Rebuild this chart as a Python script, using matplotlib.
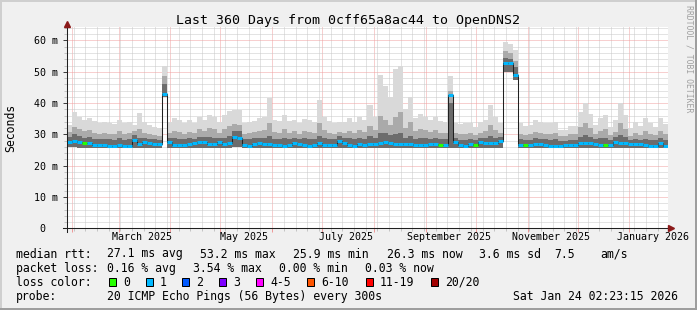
import numpy as np
import matplotlib
matplotlib.use('Agg')
import matplotlib.pyplot as plt
import matplotlib.dates as mdates
from matplotlib.patches import Rectangle
from matplotlib.ticker import MultipleLocator, FuncFormatter, NullFormatter
from datetime import datetime, timedelta

plt.rcParams['font.family'] = 'DejaVu Sans Mono'

# time range and binning (3-day bins over 360 days)
start = datetime(2025, 1, 29, 2, 23, 15)
end = datetime(2026, 1, 24, 2, 23, 15)
bin_days = 3

# median rtt per bin, ms
median_ms = [
    27.7, 27.9, 27.5, 27.2, 27.2, 26.6, 26.6, 26.6, 26.4, 26.4,
    26.6, 26.3, 26.4, 28.2, 26.8, 27.5, 27.2, 26.8, 26.8, 43.0,
    27.5, 26.6, 26.6, 26.6, 26.8, 27.2, 27.5, 27.7, 27.0, 27.0,
    27.5, 26.8, 27.2, 29.3, 29.0, 26.6, 26.4, 26.8, 27.2, 26.8,
    27.0, 26.6, 26.6, 26.4, 26.6, 27.2, 26.8, 26.6, 26.4, 26.6,
    27.3, 26.6, 26.6, 26.6, 27.9, 27.2, 26.6, 26.4, 26.8, 26.6,
    26.8, 26.8, 27.2, 27.5, 27.2, 26.8, 26.8, 26.8, 26.8, 26.6,
    26.6, 26.6, 26.8, 26.8, 26.6, 26.6, 42.6, 27.5, 26.6, 26.4,
    26.8, 26.6, 27.5, 27.2, 27.2, 27.2, 28.0, 52.7, 52.7, 49.0,
    26.6, 26.6, 26.6, 26.8, 26.8, 26.6, 26.4, 26.4, 26.4, 26.6,
    26.6, 26.6, 27.2, 27.4, 27.2, 26.8, 26.6, 26.6, 26.6, 27.7,
    27.2, 27.2, 26.8, 26.8, 26.8, 26.6, 26.4, 26.4, 27.2, 26.4,
]

# smoke: highest ping per bin
smoke_top = [
    33.0, 37.3, 35.7, 34.6, 35.1, 34.3, 33.5, 33.9, 33.5, 33.2,
    34.6, 33.5, 33.9, 33.0, 36.7, 33.9, 33.0, 32.5, 32.0, 52.0,
    33.9, 35.1, 34.6, 33.5, 34.6, 33.5, 35.7, 34.6, 36.2, 35.7,
    33.9, 36.2, 37.5, 37.8, 37.8, 33.5, 33.9, 34.3, 35.1, 35.4,
    41.5, 34.6, 34.3, 36.2, 34.3, 34.6, 33.5, 34.9, 34.6, 33.9,
    41.0, 35.4, 34.3, 33.5, 33.9, 33.9, 35.1, 34.1, 35.7, 34.6,
    39.4, 35.7, 49.0, 45.3, 42.1, 51.0, 51.8, 38.0, 42.0, 35.1,
    36.4, 35.7, 34.6, 35.7, 34.3, 33.9, 48.5, 33.5, 33.2, 33.5,
    33.5, 32.5, 34.1, 34.6, 39.4, 35.7, 33.5, 59.6, 59.0, 57.0,
    33.5, 32.7, 33.0, 34.6, 34.1, 33.5, 33.5, 33.9, 31.4, 31.4,
    32.8, 32.8, 37.1, 40.0, 36.4, 33.0, 35.1, 36.2, 32.5, 34.6,
    40.0, 36.2, 32.0, 34.1, 32.8, 35.1, 33.5, 32.5, 35.1, 33.2,
]

# smoke: upper edge of the medium grey band
smoke_mid = [
    30.8, 32.5, 31.8, 31.0, 31.4, 30.6, 30.2, 30.5, 30.2, 30.0,
    31.0, 30.2, 30.5, 31.0, 31.8, 30.6, 30.0, 29.8, 29.6, 48.5,
    30.6, 31.2, 30.8, 30.2, 30.8, 30.4, 31.6, 31.2, 32.0, 31.6,
    30.6, 31.8, 32.6, 33.2, 33.0, 30.2, 30.4, 30.8, 31.2, 31.3,
    33.5, 30.8, 30.6, 31.8, 30.6, 31.0, 30.2, 31.0, 30.8, 30.4,
    33.5, 31.3, 30.6, 30.2, 30.8, 30.6, 31.2, 30.5, 31.5, 30.8,
    32.8, 31.5, 36.0, 34.5, 33.0, 35.5, 37.0, 32.0, 34.0, 31.2,
    31.8, 31.4, 30.8, 31.5, 30.6, 30.4, 44.0, 30.5, 30.0, 30.2,
    30.3, 29.7, 30.6, 31.0, 33.0, 31.4, 30.5, 56.5, 56.0, 53.5,
    30.2, 29.8, 30.0, 30.8, 30.5, 30.2, 30.2, 30.4, 29.4, 29.4,
    30.0, 30.0, 32.4, 33.5, 32.0, 30.0, 31.2, 31.8, 29.7, 30.8,
    33.5, 31.8, 29.6, 30.6, 29.9, 31.2, 30.2, 29.7, 31.2, 30.0,
]

# smoke: upper edge of the dark grey core
smoke_dark = [
    29.3, 30.0, 29.6, 29.0, 29.2, 28.6, 28.4, 28.6, 28.4, 28.3,
    28.8, 28.3, 28.5, 29.8, 29.0, 29.0, 28.6, 28.4, 28.2, 46.0,
    28.8, 28.8, 28.6, 28.4, 28.7, 28.6, 29.2, 29.2, 29.2, 29.0,
    28.9, 29.0, 29.4, 31.0, 31.0, 28.5, 28.5, 28.7, 29.0, 28.8,
    29.6, 28.6, 28.5, 28.8, 28.6, 29.0, 28.5, 28.7, 28.5, 28.4,
    29.6, 28.8, 28.5, 28.4, 29.5, 29.0, 28.8, 28.4, 28.9, 28.6,
    29.5, 28.9, 30.5, 30.3, 29.8, 30.2, 30.6, 29.0, 29.6, 28.6,
    28.8, 28.7, 28.6, 28.8, 28.4, 28.4, 40.0, 29.0, 28.3, 28.3,
    28.6, 28.2, 29.0, 29.0, 29.6, 29.0, 29.2, 54.5, 54.0, 51.5,
    28.5, 28.1, 28.3, 28.8, 28.6, 28.5, 28.3, 28.4, 27.9, 28.0,
    28.3, 28.3, 29.3, 29.8, 29.2, 28.4, 28.7, 28.8, 28.1, 29.3,
    29.8, 29.2, 28.2, 28.6, 28.3, 28.6, 28.3, 28.1, 28.9, 28.2,
]

# smoke: lowest ping per bin
smoke_low = [
    25.9, 25.9, 25.8, 25.8, 25.8, 25.7, 25.7, 25.7, 25.7, 25.7,
    25.7, 25.6, 25.7, 25.8, 25.8, 25.8, 25.8, 25.7, 25.7, 41.8,
    25.8, 25.7, 25.7, 25.7, 25.7, 25.8, 25.8, 25.8, 25.8, 25.8,
    25.8, 25.8, 25.8, 25.9, 25.9, 25.7, 25.6, 25.7, 25.8, 25.7,
    25.8, 25.7, 25.7, 25.6, 25.7, 25.8, 25.7, 25.7, 25.6, 25.7,
    25.8, 25.7, 25.7, 25.7, 25.8, 25.8, 25.7, 25.6, 25.7, 25.7,
    25.7, 25.7, 25.8, 25.8, 25.8, 25.7, 25.7, 25.7, 25.7, 25.7,
    25.7, 25.7, 25.7, 25.7, 25.7, 25.7, 25.8, 25.8, 25.7, 25.6,
    25.7, 25.7, 25.8, 25.8, 25.8, 25.8, 25.8, 50.0, 50.0, 47.5,
    25.7, 25.7, 25.7, 25.7, 25.7, 25.7, 25.6, 25.6, 25.6, 25.7,
    25.7, 25.7, 25.8, 25.8, 25.8, 25.7, 25.7, 25.7, 25.7, 25.8,
    25.8, 25.8, 25.7, 25.7, 25.7, 25.7, 25.6, 25.6, 25.8, 25.6,
]

# bins where no pings were lost (green), all others lost 1 (blue)
zero_loss_bins = [3, 74, 81, 91, 107]

loss_labels = ['0', '1', '2', '3', '4-5', '6-10', '11-19', '20/20']
loss_colors = ['#26ff00', '#00b8ff', '#0059ff', '#7e00ff',
               '#ff00ff', '#ff5500', '#ff0000', '#a10000']

label_months = [datetime(2025, 3, 15), datetime(2025, 5, 15), datetime(2025, 7, 15),
                datetime(2025, 9, 15), datetime(2025, 11, 15), datetime(2026, 1, 15)]

W, H = 697, 310
fig = plt.figure(figsize=(W / 100, H / 100), dpi=100)
fig.patch.set_facecolor('#f0f0f0')

# frame shading
def px_rect(x, y, w, h, color):
    fig.add_artist(Rectangle((x / W, 1 - (y + h) / H), w / W, h / H,
                             transform=fig.transFigure, color=color, lw=0))

px_rect(0, 0, W, 2, '#cfcfcf')
px_rect(0, 0, 2, H, '#cfcfcf')
px_rect(0, H - 2, W, 2, '#9e9e9e')
px_rect(W - 2, 0, 2, H, '#9e9e9e')

ax_l, ax_r, ax_t, ax_b = 67, 668, 26.7, 228.3
ax = fig.add_axes([ax_l / W, 1 - ax_b / H, (ax_r - ax_l) / W, (ax_b - ax_t) / H])
ax.set_facecolor('white')

n = len(median_ms)
edges = mdates.date2num([start + timedelta(days=bin_days * i) for i in range(n + 1)])

def ext(a):
    return np.append(np.asarray(a, dtype=float), a[-1])

ax.fill_between(edges, ext(smoke_low), ext(smoke_top), step='post', color='#d9d9d9', lw=0, zorder=2)
ax.fill_between(edges, ext(smoke_low), ext(smoke_mid), step='post', color='#aaaaaa', lw=0, zorder=3)
ax.fill_between(edges, ext(smoke_low), ext(smoke_dark), step='post', color='#6c6c6c', lw=0, zorder=4)

# median: thin black line plus loss-coloured segments
ax.step(edges, ext(median_ms), where='post', color='#202020', lw=0.75, zorder=5)
seg_colors = [loss_colors[0] if i in zero_loss_bins else loss_colors[1] for i in range(n)]
ax.hlines(median_ms, edges[:-1], edges[1:], colors=seg_colors, lw=2.2, zorder=6)

ax.set_xlim(mdates.date2num(start), mdates.date2num(end))
ax.set_ylim(0, 64.4)

# grid
ax.xaxis.set_major_locator(mdates.MonthLocator())
ax.xaxis.set_minor_locator(mdates.WeekdayLocator(byweekday=mdates.SU))
ax.xaxis.set_major_formatter(NullFormatter())
ax.yaxis.set_major_locator(MultipleLocator(10))
ax.yaxis.set_minor_locator(MultipleLocator(2))
ax.yaxis.set_major_formatter(FuncFormatter(lambda v, p: '%d m' % v if v else '0  '))
ax.set_axisbelow(True)
ax.grid(which='minor', color='#c8c8c8', ls=(0, (1, 1)), lw=0.72)
ax.grid(which='major', color='#f0a0a0', ls=(0, (1, 1)), lw=0.72)

for s in ax.spines.values():
    s.set_visible(False)
ax.tick_params(axis='x', which='major', length=3, width=0.72, color='#ee9a9a', labelsize=7.2)
ax.tick_params(axis='x', which='minor', length=2, width=0.72, color='#c4c4c4')
ax.tick_params(axis='y', which='major', length=3, width=0.72, color='#404040', labelsize=7.2, pad=3.4)
ax.tick_params(axis='y', which='minor', length=2, width=0.72, color='#c4c4c4')

for d in label_months:
    ax.text(mdates.date2num(d), -(240 - ax_b) / (ax_b - ax_t), d.strftime('%B %Y'),
            transform=ax.get_xaxis_transform(), ha='center', va='baseline', fontsize=7.2)

# axes with arrows
ax.plot([0, 0], [-0.018, 1.0], transform=ax.transAxes, color='#202020', lw=0.75, clip_on=False, zorder=7)
ax.plot([-0.007, 1.0], [0, 0], transform=ax.transAxes, color='#202020', lw=0.75, clip_on=False, zorder=7)
ax.plot(0, 1.015, marker='^', ms=4, color='#8b1a1a', transform=ax.transAxes, clip_on=False, zorder=8)
ax.plot(1.005, 0, marker='>', ms=4, color='#8b1a1a', transform=ax.transAxes, clip_on=False, zorder=8)

# titles
fig.text(347.5 / W, 1 - 24 / H, 'Last 360 Days from 0cff65a8ac44 to OpenDNS2',
         ha='center', va='baseline', fontsize=9.5)
fig.text(11 / W, 1 - 127.5 / H, 'Seconds', rotation=90, ha='center', va='center', fontsize=8.3)
fig.text(688.5 / W, 1 - 5 / H, 'RRDTOOL / TOBI OETIKER', rotation=270, ha='center', va='top',
         fontsize=5.9, color='#a0a0a0')

# legend
def ltext(x, y, s):
    fig.text(x / W, 1 - y / H, s, ha='left', va='baseline', fontsize=8.3)

row1 = [(16, 'median rtt:'), (107.3, '27.1 ms avg'), (200, '53.2 ms max'), (293.3, '25.9 ms min'),
        (386.7, '26.3 ms now'), (479, '3.6 ms sd'), (554, '7.5'), (600, 'am/s')]
row2 = [(16, 'packet loss:'), (107.3, '0.16 % avg'), (193.3, '3.54 % max'), (279.3, '0.00 % min'),
        (365, '0.03 % now')]
for x, s in row1:
    ltext(x, 257.5, s)
for x, s in row2:
    ltext(x, 271.7, s)

ltext(16, 285.8, 'loss color:')
box_x = [109, 145.7, 182.3, 219, 255.7, 307.3, 365.7, 430.7]
for bx, lab, col in zip(box_x, loss_labels, loss_colors):
    fig.add_artist(Rectangle((bx / W, 1 - 286 / H), 7 / W, 7.7 / H, transform=fig.transFigure,
                             facecolor=col, edgecolor='black', lw=0.72))
    ltext(bx + 14.3, 285.8, lab)

ltext(16, 299.9, 'probe:')
ltext(107.3, 299.9, '20 ICMP Echo Pings (56 Bytes) every 300s')
ltext(513.3, 299.9, 'Sat Jan 24 02:23:15 2026')

fig.savefig('out.png', dpi=100, facecolor=fig.get_facecolor())
